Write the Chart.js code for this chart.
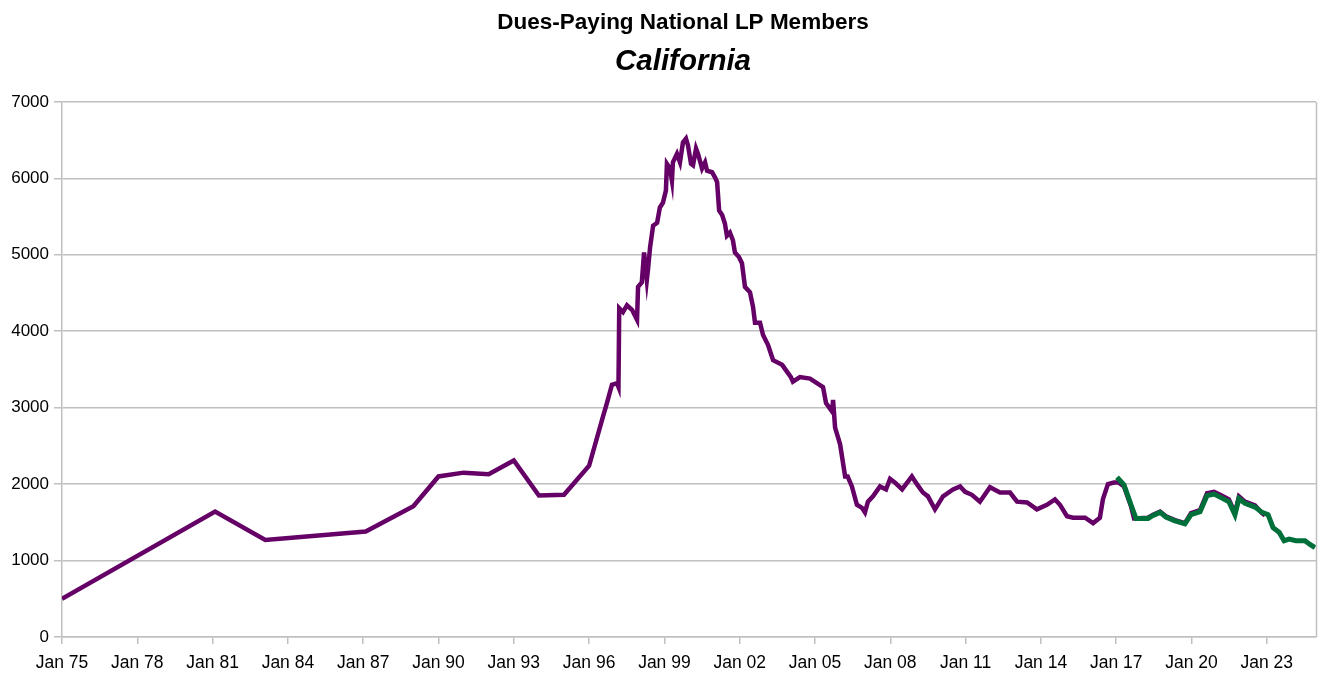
<!DOCTYPE html>
<html>
<head>
<meta charset="utf-8">
<script src="https://cdn.jsdelivr.net/npm/chart.js@4"></script>
<style>
  html, body { margin: 0; padding: 0; background: #fff; }
  #wrap { width: 1333px; height: 687px; }
</style>
</head>
<body>
<div id="wrap"><canvas id="myChart" width="1333" height="687"></canvas></div>
<script>
// Data (decimal years / members)
const purpleYears = [1975.0, 1981.1, 1983.1, 1987.1, 1989.0, 1990.0, 1991.0, 1992.0, 1993.0, 1994.0, 1995.0, 1996.0,
  1996.55, 1996.71, 1996.91, 1997.11, 1997.17, 1997.2, 1997.35, 1997.51, 1997.71, 1997.91, 1997.95, 1998.1, 1998.19,
  1998.3, 1998.35, 1998.43, 1998.55, 1998.71, 1998.82, 1998.94, 1999.06, 1999.1, 1999.22, 1999.3, 1999.34, 1999.5,
  1999.62, 1999.74, 1999.86, 1999.94, 2000.06, 2000.14, 2000.26, 2000.34, 2000.5, 2000.62, 2000.7, 2000.9, 2001.02,
  2001.1, 2001.18, 2001.3, 2001.41, 2001.49, 2001.61, 2001.73, 2001.81, 2001.97, 2002.09, 2002.21, 2002.41, 2002.53,
  2002.61, 2002.81, 2002.93, 2003.13, 2003.33, 2003.69, 2004.04, 2004.12, 2004.4, 2004.8, 2005.32, 2005.44, 2005.68,
  2005.72, 2005.8, 2006.0, 2006.2, 2006.3, 2006.47, 2006.67, 2006.87, 2006.99, 2007.11, 2007.31, 2007.59, 2007.83,
  2007.99, 2008.19, 2008.47, 2008.86, 2009.06, 2009.3, 2009.5, 2009.78, 2010.1, 2010.5, 2010.78, 2010.98, 2011.25,
  2011.57, 2011.97, 2012.37, 2012.77, 2013.05, 2013.45, 2013.84, 2014.24, 2014.56, 2014.76, 2015.04, 2015.28, 2015.76,
  2016.08, 2016.35, 2016.47, 2016.67, 2016.91, 2017.11, 2017.31, 2017.59, 2017.71, 2018.27, 2018.47, 2018.75, 2018.98,
  2019.34, 2019.74, 2019.98, 2020.34, 2020.62, 2020.9, 2021.14, 2021.49, 2021.73, 2021.89, 2022.13, 2022.53, 2022.81,
  2022.93];
const purpleValues = [500, 1640, 1270, 1380, 1710, 2100, 2150, 2130, 2310, 1850, 1860, 2240,
  2880, 3060, 3300, 3320, 3270, 4300, 4250, 4340, 4280, 4150, 4580, 4640, 5030,
  4670, 4820, 5100, 5380, 5420, 5620, 5680, 5840, 6190, 6130, 5970, 6210, 6320,
  6210, 6470, 6520, 6430, 6190, 6170, 6390, 6320, 6130, 6210, 6100, 6080, 6010,
  5950, 5580, 5520, 5410, 5250, 5290, 5190, 5030, 4970, 4890, 4580, 4510, 4320,
  4110, 4110, 3950, 3820, 3620, 3560, 3400, 3340, 3400, 3380, 3270, 3060, 2950,
  3100, 2740, 2520, 2100, 2100, 1970, 1730, 1690, 1630, 1770, 1840, 1970, 1930,
  2070, 2020, 1930, 2100, 2000, 1890, 1840, 1670, 1840, 1930, 1970, 1900, 1860,
  1770, 1960, 1890, 1890, 1770, 1760, 1670, 1730, 1800, 1730, 1580, 1560, 1560,
  1490, 1560, 1800, 2000, 2020, 2020, 1970, 1710, 1550, 1560, 1600, 1640, 1580,
  1530, 1490, 1620, 1660, 1880, 1900, 1860, 1800, 1620, 1840, 1770, 1720, 1620,
  1590];

const greenYears = [2017.03, 2017.31, 2017.59, 2017.79, 2018.27, 2018.47, 2018.75, 2018.98, 2019.34, 2019.74, 2019.98,
  2020.34, 2020.62, 2020.9, 2021.14, 2021.49, 2021.73, 2021.89, 2022.13, 2022.53, 2022.81, 2023.05, 2023.25, 2023.49,
  2023.69, 2023.89, 2024.16, 2024.52, 2024.72, 2024.92];
const greenValues = [2090, 1990, 1730, 1550, 1550, 1590, 1630, 1570, 1520, 1480, 1600,
  1640, 1850, 1870, 1830, 1770, 1600, 1810, 1750, 1700, 1630, 1600, 1430, 1370,
  1260, 1280, 1260, 1260, 1210, 1170];

const tickYears = [1975, 1978, 1981, 1984, 1987, 1990, 1993, 1996, 1999, 2002, 2005, 2008, 2011, 2014, 2017, 2020, 2023];

const toPoints = (xs, ys) => xs.map((x, i) => ({ x: x, y: ys[i] }));

const gridColor = '#c0c0c0';

// right border of the plot area, and let the y labels draw left of the axis box
const rightBorder = {
  id: 'rightBorder',
  afterLayout(chart) {
    chart.scales.y.left = 0;
  },
  afterDraw(chart) {
    const { ctx, chartArea } = chart;
    ctx.save();
    ctx.strokeStyle = gridColor;
    ctx.lineWidth = 1.5;
    ctx.beginPath();
    ctx.moveTo(chartArea.right + 0.5, chartArea.top);
    ctx.lineTo(chartArea.right + 0.5, chartArea.bottom);
    ctx.stroke();
    ctx.restore();
  }
};

const ctx = document.getElementById('myChart').getContext('2d');

new Chart(ctx, {
  type: 'line',
  data: {
    datasets: [
      {
        label: 'Green',
        data: toPoints(greenYears, greenValues),
        borderColor: '#00703a',
        backgroundColor: '#00703a',
        borderWidth: 5,
        pointRadius: 0,
        tension: 0,
        order: 0
      },
      {
        label: 'Purple',
        data: toPoints(purpleYears, purpleValues),
        borderColor: '#650066',
        backgroundColor: '#650066',
        borderWidth: 4.5,
        pointRadius: 0,
        tension: 0,
        order: 1
      }
    ]
  },
  options: {
    responsive: false,
    animation: false,
    layout: { padding: { left: 50, right: 17, top: 0, bottom: 4 } },
    plugins: {
      legend: { display: false },
      tooltip: { enabled: false },
      title: {
        display: true,
        text: 'Dues-Paying National LP Members',
        color: '#000',
        font: { family: 'Liberation Sans', size: 22.5, weight: 'bold' },
        padding: { top: 9, bottom: 8 }
      },
      subtitle: {
        display: true,
        text: 'California',
        color: '#000',
        font: { family: 'Liberation Sans', size: 29.5, weight: 'bold', style: 'italic' },
        padding: { top: 0, bottom: 22.5 }
      }
    },
    scales: {
      x: {
        type: 'linear',
        min: 1975,
        max: 2024.96,
        afterBuildTicks: axis => { axis.ticks = tickYears.map(v => ({ value: v })); },
        afterFit: axis => { axis.paddingLeft = 0; axis.paddingRight = 0; },
        grid: { drawOnChartArea: false, color: gridColor, tickLength: 7, lineWidth: 1.5 },
        border: { color: gridColor, width: 1.5 },
        ticks: {
          color: '#000',
          maxRotation: 0,
          autoSkip: false,
          padding: 9,
          font: { family: 'Liberation Sans', size: 17.5 },
          callback: v => 'Jan ' + String(v % 100).padStart(2, '0')
        }
      },
      y: {
        min: 0,
        max: 7000,
        afterFit: axis => { axis.width = 12; },
        grid: { color: gridColor, tickLength: 8, lineWidth: 1.5 },
        border: { color: gridColor, width: 1.5 },
        ticks: {
          stepSize: 1000,
          color: '#000',
          padding: 5,
          font: { family: 'Liberation Sans', size: 17 },
          callback: v => String(v)
        }
      }
    }
  },
  plugins: [rightBorder]
});
</script>
</body>
</html>
